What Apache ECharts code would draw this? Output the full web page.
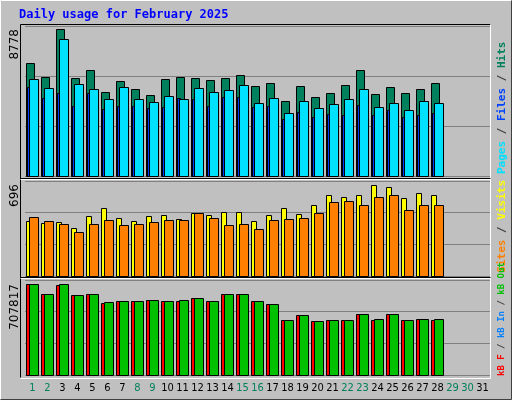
<!DOCTYPE html>
<html><head><meta charset="utf-8">
<script src="https://cdn.jsdelivr.net/npm/echarts@6/dist/echarts.min.js"></script>
<style>html,body{margin:0;padding:0;background:#c0c0c0}#c{width:512px;height:400px}</style>
</head><body><div id="c"></div>
<script>
var days = [];
for (var d = 1; d <= 31; d++) days.push("" + d);
var weekend = [1, 2, 8, 9, 15, 16, 22, 23, 29, 30];

var hits = [6728,5893,8778,5833,6311,4998,5654,5177,4818,5774,5893,5833,5714,5833,6012,5356,5535,4460,5356,4699,4938,5415,6311,4878,5296,4938,5177,5535];
var pages = [5774,5236,8161,5475,5177,4579,5296,4579,4400,4758,4579,5236,4997,5116,5415,4340,4639,3743,4460,4042,4281,4579,5177,4101,4340,3922,4460,4340];
var files = [5296,4639,4938,4161,4938,3982,4161,4161,4042,4101,4639,4579,4161,4699,4699,4101,4161,3385,3803,3504,3683,3624,4221,3624,3922,3504,3624,3743];
var visits = [416,401,409,363,454,514,439,416,454,462,431,477,462,484,484,416,462,514,469,537,613,598,620,696,681,590,628,613];
var sites = [446,416,393,333,393,424,386,393,409,424,424,477,439,386,393,356,424,431,439,477,560,567,537,598,613,499,537,537];
var kbF = [707817,630000,700000,622000,630000,560000,576000,576000,583000,576000,576000,599000,576000,630000,630000,576000,552000,428000,467000,420000,428000,428000,474000,428000,474000,428000,436000,428000];
var kbOut = [707817,630000,707817,622000,630000,568000,576000,576000,583000,576000,583000,599000,576000,630000,630000,576000,552000,428000,467000,420000,428000,428000,474000,436000,474000,428000,436000,436000];

var chart = echarts.init(document.getElementById("c"));

function bars(name, data, color, x0, x1, gi) {
  return {
    type: "custom", name: name, xAxisIndex: gi, yAxisIndex: gi,
    data: data.map(function (v, i) { return [i, v]; }),
    encode: { x: 0, y: 1 },
    renderItem: function (params, api) {
      var top = api.coord([api.value(0), api.value(1)]);
      var base = api.coord([api.value(0), 0]);
      return {
        type: "rect",
        shape: { x: Math.round(top[0] + x0) + 0.5, y: Math.round(top[1]) + 0.5, width: x1 - x0, height: Math.round(base[1] - top[1]) },
        style: { fill: color, stroke: "#000", lineWidth: 1 }
      };
    }
  };
}

function xAxis(gi, show) {
  return {
    type: "category", gridIndex: gi, data: days, boundaryGap: true,
    axisLine: { show: false }, axisTick: { show: false }, splitLine: { show: false },
    axisLabel: {
      show: show, interval: 0, margin: 8, fontSize: 11, fontFamily: "DejaVu Sans Condensed",
      color: function (v) { return weekend.indexOf(+v) >= 0 ? "#00805c" : "#000"; }
    }
  };
}
function yAxis(gi, max) {
  return {
    type: "value", gridIndex: gi, min: 0, max: max, interval: max / 3,
    axisLabel: { show: false }, axisLine: { show: false }, axisTick: { show: false },
    splitLine: { lineStyle: { color: "#808080", width: 1 } }
  };
}

function r(c, size) { return { fill: c, font: "bold " + size + "px 'DejaVu Sans Mono'" }; }
function richSet(size) {
  return { p: r("#00e0ff", size), f: r("#0040ff", size), h: r("#00805c", size), s: r("#ff8000", size), v: r("#ffff00", size), k: r("#ff0000", size), i: r("#0080ff", size), o: r("#00c000", size), sl: r("#404040", size) };
}
function vtext(x, y, align, size, text) {
  return {
    type: "text", x: x, y: y, rotation: Math.PI / 2,
    style: { text: text, rich: richSet(size), align: align, verticalAlign: "middle", font: "bold " + size + "px 'DejaVu Sans Mono'", fill: "#000" }
  };
}

function line(x1, y1, x2, y2, c) {
  return { type: "line", shape: { x1: x1, y1: y1, x2: x2, y2: y2 }, style: { stroke: c, lineWidth: 1 } };
}

chart.setOption({
  backgroundColor: "#c0c0c0",
  animation: false,
  grid: [
    { left: 25, right: 22, top: 26, height: 150 },
    { left: 25, right: 22, top: 181, height: 95 },
    { left: 25, right: 22, top: 280, height: 95 }
  ],
  xAxis: [xAxis(0, false), xAxis(1, false), xAxis(2, true)],
  yAxis: [yAxis(0, 8957), yAxis(1, 723), yAxis(2, 738930)],
  series: [
    bars("Hits", hits, "#00805c", -7, 1, 0),
    bars("Files", files, "#0040ff", -6, -3, 0),
    bars("Pages", pages, "#00e0ff", -4, 5, 0),
    bars("Visits", visits, "#ffff00", -7, -2, 1),
    bars("Sites", sites, "#ff8000", -4, 5, 1),
    bars("kB F", kbF, "#ff0000", -7, -2, 2),
    bars("kB Out", kbOut, "#00c000", -4, 5, 2)
  ],
  graphic: [
    line(0.5, 0.5, 511.5, 0.5, "#fff"), line(0.5, 0.5, 0.5, 399.5, "#fff"),
    line(511.5, 0.5, 511.5, 399.5, "#404040"), line(0.5, 399.5, 511.5, 399.5, "#404040"),
    line(20.5, 24.5, 490.5, 24.5, "#000"), line(20.5, 24.5, 20.5, 377.5, "#000"),
    line(490.5, 24.5, 490.5, 378.5, "#fff"), line(20.5, 378.5, 490.5, 378.5, "#fff"),
    line(20.5, 178.5, 490.5, 178.5, "#000"), line(20.5, 179.5, 490.5, 179.5, "#fff"),
    line(20.5, 277.5, 490.5, 277.5, "#000"), line(20.5, 278.5, 490.5, 278.5, "#fff"),
    { type: "text", x: 19, y: 15, style: { text: "Daily usage for February 2025", font: "bold 12px 'DejaVu Sans Mono'", fill: "#0000ff", verticalAlign: "middle" } },
    { type: "text", x: 15, y: 29, rotation: Math.PI / 2, style: { text: "8778", font: "12px 'DejaVu Sans'", fill: "#000", align: "right", verticalAlign: "middle" } },
    { type: "text", x: 15, y: 184, rotation: Math.PI / 2, style: { text: "696", font: "12px 'DejaVu Sans'", fill: "#000", align: "right", verticalAlign: "middle" } },
    { type: "text", x: 15, y: 284, rotation: Math.PI / 2, style: { text: "707817", font: "12px 'DejaVu Sans'", fill: "#000", align: "right", verticalAlign: "middle" } },
    vtext(502, 174, "left", 11, "{p|Pages}{sl| / }{f|Files}{sl| / }{h|Hits}"),
    vtext(502, 180, "right", 11, "{s|Sites}{sl| / }{v|Visits}"),
    vtext(502, 376, "left", 9, "{k|kB F}{sl| / }{i|kB In}{sl| / }{o|kB Out}")
  ]
});
</script></body></html>
